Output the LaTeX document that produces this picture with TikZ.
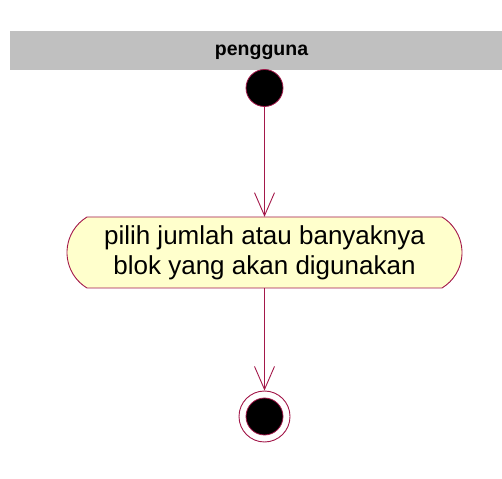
\documentclass[tikz,border=0pt]{standalone}
\usepackage{fontspec}
\setmainfont{Liberation Sans}
\usetikzlibrary{arrows.meta}
\definecolor{umlred}{HTML}{A3184A}
\definecolor{lanegray}{HTML}{C0C0C0}
\definecolor{actfill}{HTML}{FFFFCC}
\begin{document}
\begin{tikzpicture}[x=1pt,y=1pt,
  conn/.style={draw=umlred, line width=0.9pt, -{Straight Barb[length=23pt,width=20pt]}},
  startdot/.style={circle, fill=black, draw=umlred, line width=0.8pt, minimum size=37pt, inner sep=0pt},
  actbox/.style={fill=actfill, draw=umlred, line width=0.9pt}]
\useasboundingbox (0,0) rectangle (502,478);
% swimlane header
\fill[lanegray] (10,408) rectangle (502,447);
\node[font=\bfseries\fontsize{19.5}{22}\selectfont, anchor=base] (lanelabel) at (261.5,422.3) {pengguna};
% start
\node[startdot] (start) at (264.5,390) {};
% activity shape
\path[actbox] (87,261) -- (442,261) arc[start angle=58.8, end angle=-58.8, radius=41.5]
  -- (87,190) arc[start angle=238.8, end angle=121.2, radius=41.5] -- cycle;
\node[minimum width=395pt, minimum height=71pt, inner sep=0pt, align=center,
  font=\fontsize{26}{30}\selectfont] (act) at (264.5,225.5) {pilih jumlah atau banyaknya\\blok yang akan digunakan};
% end
\node[circle, draw=umlred, line width=0.9pt, fill=white, minimum size=51pt, inner sep=0pt] (end) at (264.5,61.5) {};
\node[startdot] (endcore) at (end.center) {};
% connectors
\draw[conn] (start) -- (act);
\draw[conn] (act) -- (end);
\end{tikzpicture}
\end{document}
